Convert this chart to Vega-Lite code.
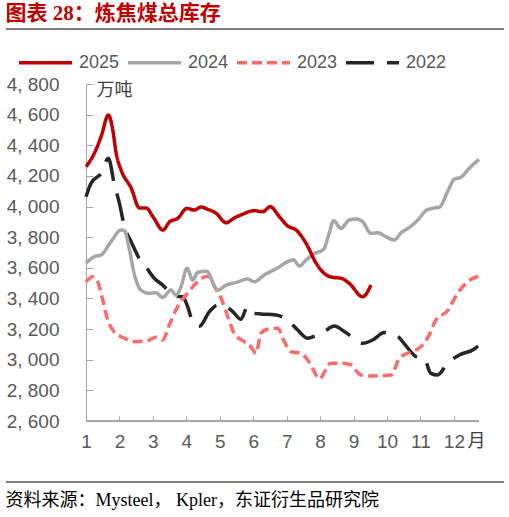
{
  "$schema": "https://vega.github.io/schema/vega-lite/v6.json",
  "background": "white",
  "padding": {"left": 5, "top": 3, "right": 6, "bottom": 0},
  "spacing": 0,
  "config": {
    "view": {"stroke": null},
    "font": "Liberation Sans",
    "concat": {"spacing": 0}
  },
  "vconcat": [
    {
      "width": 498,
      "height": 46,
      "title": {"text": "图表 28：炼焦煤总库存", "anchor": "start", "font": "Liberation Serif, Noto Sans CJK SC", "fontSize": 21, "fontWeight": "bold", "color": "#C00000", "offset": 4},
      "data": {"values": [{}]},
      "mark": {"type": "rule", "color": "#000000", "strokeWidth": 1.2},
      "encoding": {
        "y": {"datum": 2, "type": "quantitative", "scale": {"domain": [1, 2]}, "axis": null}
      }
    },
    {
      "width": 473,
      "height": 337,
      "data": {"values": [
        {"year": "2022", "m": 1.0, "v": 4064}, {"year": "2022", "m": 1.15, "v": 4152}, {"year": "2022", "m": 1.45, "v": 4217}, {"year": "2022", "m": 1.67, "v": 4315},
        {"year": "2022", "m": 1.85, "v": 4141}, {"year": "2022", "m": 2.0, "v": 4021}, {"year": "2022", "m": 2.15, "v": 3868}, {"year": "2022", "m": 2.35, "v": 3771},
        {"year": "2022", "m": 2.59, "v": 3662}, {"year": "2022", "m": 2.79, "v": 3607}, {"year": "2022", "m": 3.04, "v": 3532}, {"year": "2022", "m": 3.29, "v": 3488},
        {"year": "2022", "m": 3.49, "v": 3444}, {"year": "2022", "m": 3.69, "v": 3416}, {"year": "2022", "m": 3.89, "v": 3411}, {"year": "2022", "m": 4.04, "v": 3346},
        {"year": "2022", "m": 4.19, "v": 3248}, {"year": "2022", "m": 4.39, "v": 3218}, {"year": "2022", "m": 4.69, "v": 3314}, {"year": "2022", "m": 4.94, "v": 3357},
        {"year": "2022", "m": 5.19, "v": 3346}, {"year": "2022", "m": 5.39, "v": 3314}, {"year": "2022", "m": 5.63, "v": 3264}, {"year": "2022", "m": 5.83, "v": 3346},
        {"year": "2022", "m": 6.03, "v": 3303}, {"year": "2022", "m": 6.23, "v": 3299}, {"year": "2022", "m": 6.68, "v": 3292}, {"year": "2022", "m": 7.03, "v": 3259},
        {"year": "2022", "m": 7.33, "v": 3194}, {"year": "2022", "m": 7.63, "v": 3140}, {"year": "2022", "m": 7.85, "v": 3155}, {"year": "2022", "m": 8.12, "v": 3183},
        {"year": "2022", "m": 8.42, "v": 3220}, {"year": "2022", "m": 8.77, "v": 3177}, {"year": "2022", "m": 9.27, "v": 3107}, {"year": "2022", "m": 9.57, "v": 3129},
        {"year": "2022", "m": 9.92, "v": 3177}, {"year": "2022", "m": 10.27, "v": 3161}, {"year": "2022", "m": 10.57, "v": 3090}, {"year": "2022", "m": 10.87, "v": 3020},
        {"year": "2022", "m": 11.11, "v": 3009}, {"year": "2022", "m": 11.31, "v": 2911}, {"year": "2022", "m": 11.51, "v": 2900}, {"year": "2022", "m": 11.81, "v": 2977},
        {"year": "2022", "m": 12.16, "v": 3031}, {"year": "2022", "m": 12.61, "v": 3070}, {"year": "2022", "m": 12.75, "v": 3096},
        {"year": "2023", "m": 1.0, "v": 3509}, {"year": "2023", "m": 1.2, "v": 3542}, {"year": "2023", "m": 1.35, "v": 3509}, {"year": "2023", "m": 1.5, "v": 3390},
        {"year": "2023", "m": 1.65, "v": 3259}, {"year": "2023", "m": 1.8, "v": 3194}, {"year": "2023", "m": 2.15, "v": 3140}, {"year": "2023", "m": 2.49, "v": 3118},
        {"year": "2023", "m": 2.84, "v": 3124}, {"year": "2023", "m": 3.09, "v": 3146}, {"year": "2023", "m": 3.29, "v": 3129}, {"year": "2023", "m": 3.49, "v": 3227},
        {"year": "2023", "m": 3.74, "v": 3346}, {"year": "2023", "m": 3.99, "v": 3422}, {"year": "2023", "m": 4.29, "v": 3499}, {"year": "2023", "m": 4.45, "v": 3530},
        {"year": "2023", "m": 4.64, "v": 3545}, {"year": "2023", "m": 4.88, "v": 3462}, {"year": "2023", "m": 5.05, "v": 3395}, {"year": "2023", "m": 5.24, "v": 3281},
        {"year": "2023", "m": 5.43, "v": 3172}, {"year": "2023", "m": 5.73, "v": 3118}, {"year": "2023", "m": 5.93, "v": 3085}, {"year": "2023", "m": 6.08, "v": 3042},
        {"year": "2023", "m": 6.23, "v": 3172}, {"year": "2023", "m": 6.43, "v": 3199}, {"year": "2023", "m": 6.73, "v": 3205}, {"year": "2023", "m": 6.93, "v": 3118},
        {"year": "2023", "m": 7.13, "v": 3052}, {"year": "2023", "m": 7.43, "v": 3042}, {"year": "2023", "m": 7.63, "v": 2998}, {"year": "2023", "m": 7.8, "v": 2933},
        {"year": "2023", "m": 7.97, "v": 2875}, {"year": "2023", "m": 8.32, "v": 2977}, {"year": "2023", "m": 8.67, "v": 2977}, {"year": "2023", "m": 8.92, "v": 2966},
        {"year": "2023", "m": 9.22, "v": 2900}, {"year": "2023", "m": 9.52, "v": 2894}, {"year": "2023", "m": 10.12, "v": 2900}, {"year": "2023", "m": 10.37, "v": 3009},
        {"year": "2023", "m": 10.72, "v": 3052}, {"year": "2023", "m": 11.01, "v": 3085}, {"year": "2023", "m": 11.26, "v": 3161}, {"year": "2023", "m": 11.46, "v": 3259},
        {"year": "2023", "m": 11.81, "v": 3320}, {"year": "2023", "m": 12.11, "v": 3434}, {"year": "2023", "m": 12.41, "v": 3509}, {"year": "2023", "m": 12.75, "v": 3547},
        {"year": "2024", "m": 1.0, "v": 3630}, {"year": "2024", "m": 1.25, "v": 3673}, {"year": "2024", "m": 1.45, "v": 3684}, {"year": "2024", "m": 1.75, "v": 3771},
        {"year": "2024", "m": 2.05, "v": 3847}, {"year": "2024", "m": 2.15, "v": 3842}, {"year": "2024", "m": 2.3, "v": 3716}, {"year": "2024", "m": 2.44, "v": 3564},
        {"year": "2024", "m": 2.64, "v": 3455}, {"year": "2024", "m": 2.89, "v": 3434}, {"year": "2024", "m": 3.09, "v": 3438}, {"year": "2024", "m": 3.29, "v": 3407},
        {"year": "2024", "m": 3.54, "v": 3455}, {"year": "2024", "m": 3.69, "v": 3422}, {"year": "2024", "m": 3.84, "v": 3477}, {"year": "2024", "m": 4.02, "v": 3597},
        {"year": "2024", "m": 4.19, "v": 3520}, {"year": "2024", "m": 4.34, "v": 3570}, {"year": "2024", "m": 4.6, "v": 3578}, {"year": "2024", "m": 4.94, "v": 3455},
        {"year": "2024", "m": 5.2, "v": 3488}, {"year": "2024", "m": 5.5, "v": 3505}, {"year": "2024", "m": 5.83, "v": 3527}, {"year": "2024", "m": 6.03, "v": 3509},
        {"year": "2024", "m": 6.33, "v": 3553}, {"year": "2024", "m": 6.73, "v": 3600}, {"year": "2024", "m": 7.05, "v": 3642}, {"year": "2024", "m": 7.2, "v": 3652},
        {"year": "2024", "m": 7.38, "v": 3612}, {"year": "2024", "m": 7.58, "v": 3651}, {"year": "2024", "m": 7.85, "v": 3695}, {"year": "2024", "m": 8.1, "v": 3720},
        {"year": "2024", "m": 8.27, "v": 3825}, {"year": "2024", "m": 8.4, "v": 3908}, {"year": "2024", "m": 8.62, "v": 3858}, {"year": "2024", "m": 8.87, "v": 3912},
        {"year": "2024", "m": 9.07, "v": 3919}, {"year": "2024", "m": 9.27, "v": 3901}, {"year": "2024", "m": 9.52, "v": 3825}, {"year": "2024", "m": 9.72, "v": 3829},
        {"year": "2024", "m": 9.97, "v": 3803}, {"year": "2024", "m": 10.22, "v": 3782}, {"year": "2024", "m": 10.42, "v": 3829}, {"year": "2024", "m": 10.67, "v": 3864},
        {"year": "2024", "m": 10.92, "v": 3912}, {"year": "2024", "m": 11.16, "v": 3973}, {"year": "2024", "m": 11.37, "v": 3989}, {"year": "2024", "m": 11.56, "v": 3995},
        {"year": "2024", "m": 11.81, "v": 4097}, {"year": "2024", "m": 12.01, "v": 4178}, {"year": "2024", "m": 12.21, "v": 4191}, {"year": "2024", "m": 12.46, "v": 4250},
        {"year": "2024", "m": 12.75, "v": 4308},
        {"year": "2025", "m": 1.0, "v": 4260}, {"year": "2025", "m": 1.25, "v": 4348}, {"year": "2025", "m": 1.45, "v": 4456}, {"year": "2025", "m": 1.67, "v": 4597},
        {"year": "2025", "m": 1.8, "v": 4500}, {"year": "2025", "m": 1.9, "v": 4350}, {"year": "2025", "m": 2.05, "v": 4238}, {"year": "2025", "m": 2.35, "v": 4121},
        {"year": "2025", "m": 2.6, "v": 3990}, {"year": "2025", "m": 2.8, "v": 3990}, {"year": "2025", "m": 3.0, "v": 3934}, {"year": "2025", "m": 3.3, "v": 3847},
        {"year": "2025", "m": 3.5, "v": 3901}, {"year": "2025", "m": 3.74, "v": 3923}, {"year": "2025", "m": 4.02, "v": 3988}, {"year": "2025", "m": 4.24, "v": 3977},
        {"year": "2025", "m": 4.44, "v": 3997}, {"year": "2025", "m": 4.64, "v": 3982}, {"year": "2025", "m": 4.89, "v": 3956}, {"year": "2025", "m": 5.19, "v": 3894},
        {"year": "2025", "m": 5.43, "v": 3925}, {"year": "2025", "m": 5.63, "v": 3945}, {"year": "2025", "m": 6.03, "v": 3973}, {"year": "2025", "m": 6.28, "v": 3966},
        {"year": "2025", "m": 6.51, "v": 3999}, {"year": "2025", "m": 6.78, "v": 3934}, {"year": "2025", "m": 7.03, "v": 3873}, {"year": "2025", "m": 7.28, "v": 3847},
        {"year": "2025", "m": 7.58, "v": 3760}, {"year": "2025", "m": 7.88, "v": 3630}, {"year": "2025", "m": 8.12, "v": 3564}, {"year": "2025", "m": 8.37, "v": 3538},
        {"year": "2025", "m": 8.62, "v": 3532}, {"year": "2025", "m": 8.87, "v": 3499}, {"year": "2025", "m": 9.27, "v": 3411}, {"year": "2025", "m": 9.52, "v": 3488}
      ]},
      "encoding": {
        "x": {
          "field": "m", "type": "quantitative",
          "scale": {"domain": [-1.392, 12.75], "nice": false, "zero": false},
          "axis": {
            "values": [1, 2, 3, 4, 5, 6, 7, 8, 9, 10, 11, 12], "format": "d", "grid": false, "domain": false,
            "labelFontSize": 19, "labelColor": "#595959", "labelPadding": 16, "labelFlush": false,
            "tickSize": -5, "tickColor": "#A6A6A6",
            "title": "月", "titleAngle": 0, "titleX": 461, "titleY": 20, "titleAlign": "left", "titleBaseline": "middle",
            "titleFont": "Noto Sans CJK SC", "titleFontSize": 18, "titleFontWeight": "normal", "titleColor": "#404040"
          }
        },
        "y": {
          "field": "v", "type": "quantitative",
          "scale": {"domain": [2600, 4800], "nice": false, "zero": false},
          "axis": {
            "values": [2600, 2800, 3000, 3200, 3400, 3600, 3800, 4000, 4200, 4400, 4600, 4800], "grid": false,
            "offset": -80,
            "labelExpr": "replace(format(datum.value, ',.0f'), ',', ', ')",
            "labelFontSize": 19, "labelColor": "#595959", "labelPadding": 34,
            "tickSize": -7, "tickColor": "#A6A6A6", "domainColor": "#A6A6A6",
            "title": "万吨", "titleAngle": 0, "titleX": 10, "titleY": 6, "titleAlign": "left", "titleBaseline": "middle",
            "titleFont": "Noto Sans CJK SC", "titleFontSize": 18, "titleFontWeight": "normal", "titleColor": "#404040"
          }
        }
      },
      "layer": [
        {
          "mark": {"type": "rule", "color": "#A6A6A6", "strokeWidth": 1},
          "encoding": {
            "x": {"datum": 1, "type": "quantitative"},
            "x2": {"datum": 12.75},
            "y": {"datum": 2600, "type": "quantitative"}
          }
        },
        {
          "mark": {"type": "line", "strokeWidth": 3.5, "interpolate": "monotone", "strokeCap": "butt"},
          "encoding": {
            "color": {
              "field": "year", "type": "nominal",
              "scale": {"domain": ["2025", "2024", "2023", "2022"], "range": ["#C00000", "#A6A6A6", "#FF6B6B", "#262626"]},
              "legend": {"title": null, "orient": "none", "legendX": 11, "legendY": 5, "direction": "horizontal",
                "symbolType": "stroke", "symbolSize": 2809, "symbolStrokeWidth": 3.5, "labelFontSize": 18, "labelColor": "#595959",
                "labelOffset": 5, "columnPadding": 1}
            },
            "strokeDash": {
              "field": "year", "type": "nominal",
              "scale": {"domain": ["2025", "2024", "2023", "2022"], "range": [[1, 0], [1, 0], [10, 5], [28, 13]]},
              "legend": {"title": null, "orient": "none", "legendX": 11, "legendY": 5, "direction": "horizontal",
                "symbolType": "stroke", "symbolSize": 2809, "symbolStrokeWidth": 3.5, "labelFontSize": 18, "labelColor": "#595959",
                "labelOffset": 5, "columnPadding": 1}
            }
          }
        }
      ]
    },
    {
      "width": 498,
      "height": 31,
      "title": {"text": "资料来源：Mysteel， Kpler，东证衍生品研究院", "orient": "bottom", "anchor": "start", "font": "Liberation Serif, Noto Sans CJK SC", "fontSize": 18, "fontWeight": "normal", "color": "#000000", "offset": 9},
      "data": {"values": [{}]},
      "mark": {"type": "rule", "color": "#000000", "strokeWidth": 1},
      "encoding": {
        "y": {"datum": 1, "type": "quantitative", "scale": {"domain": [1, 2]}, "axis": null}
      }
    }
  ]
}
